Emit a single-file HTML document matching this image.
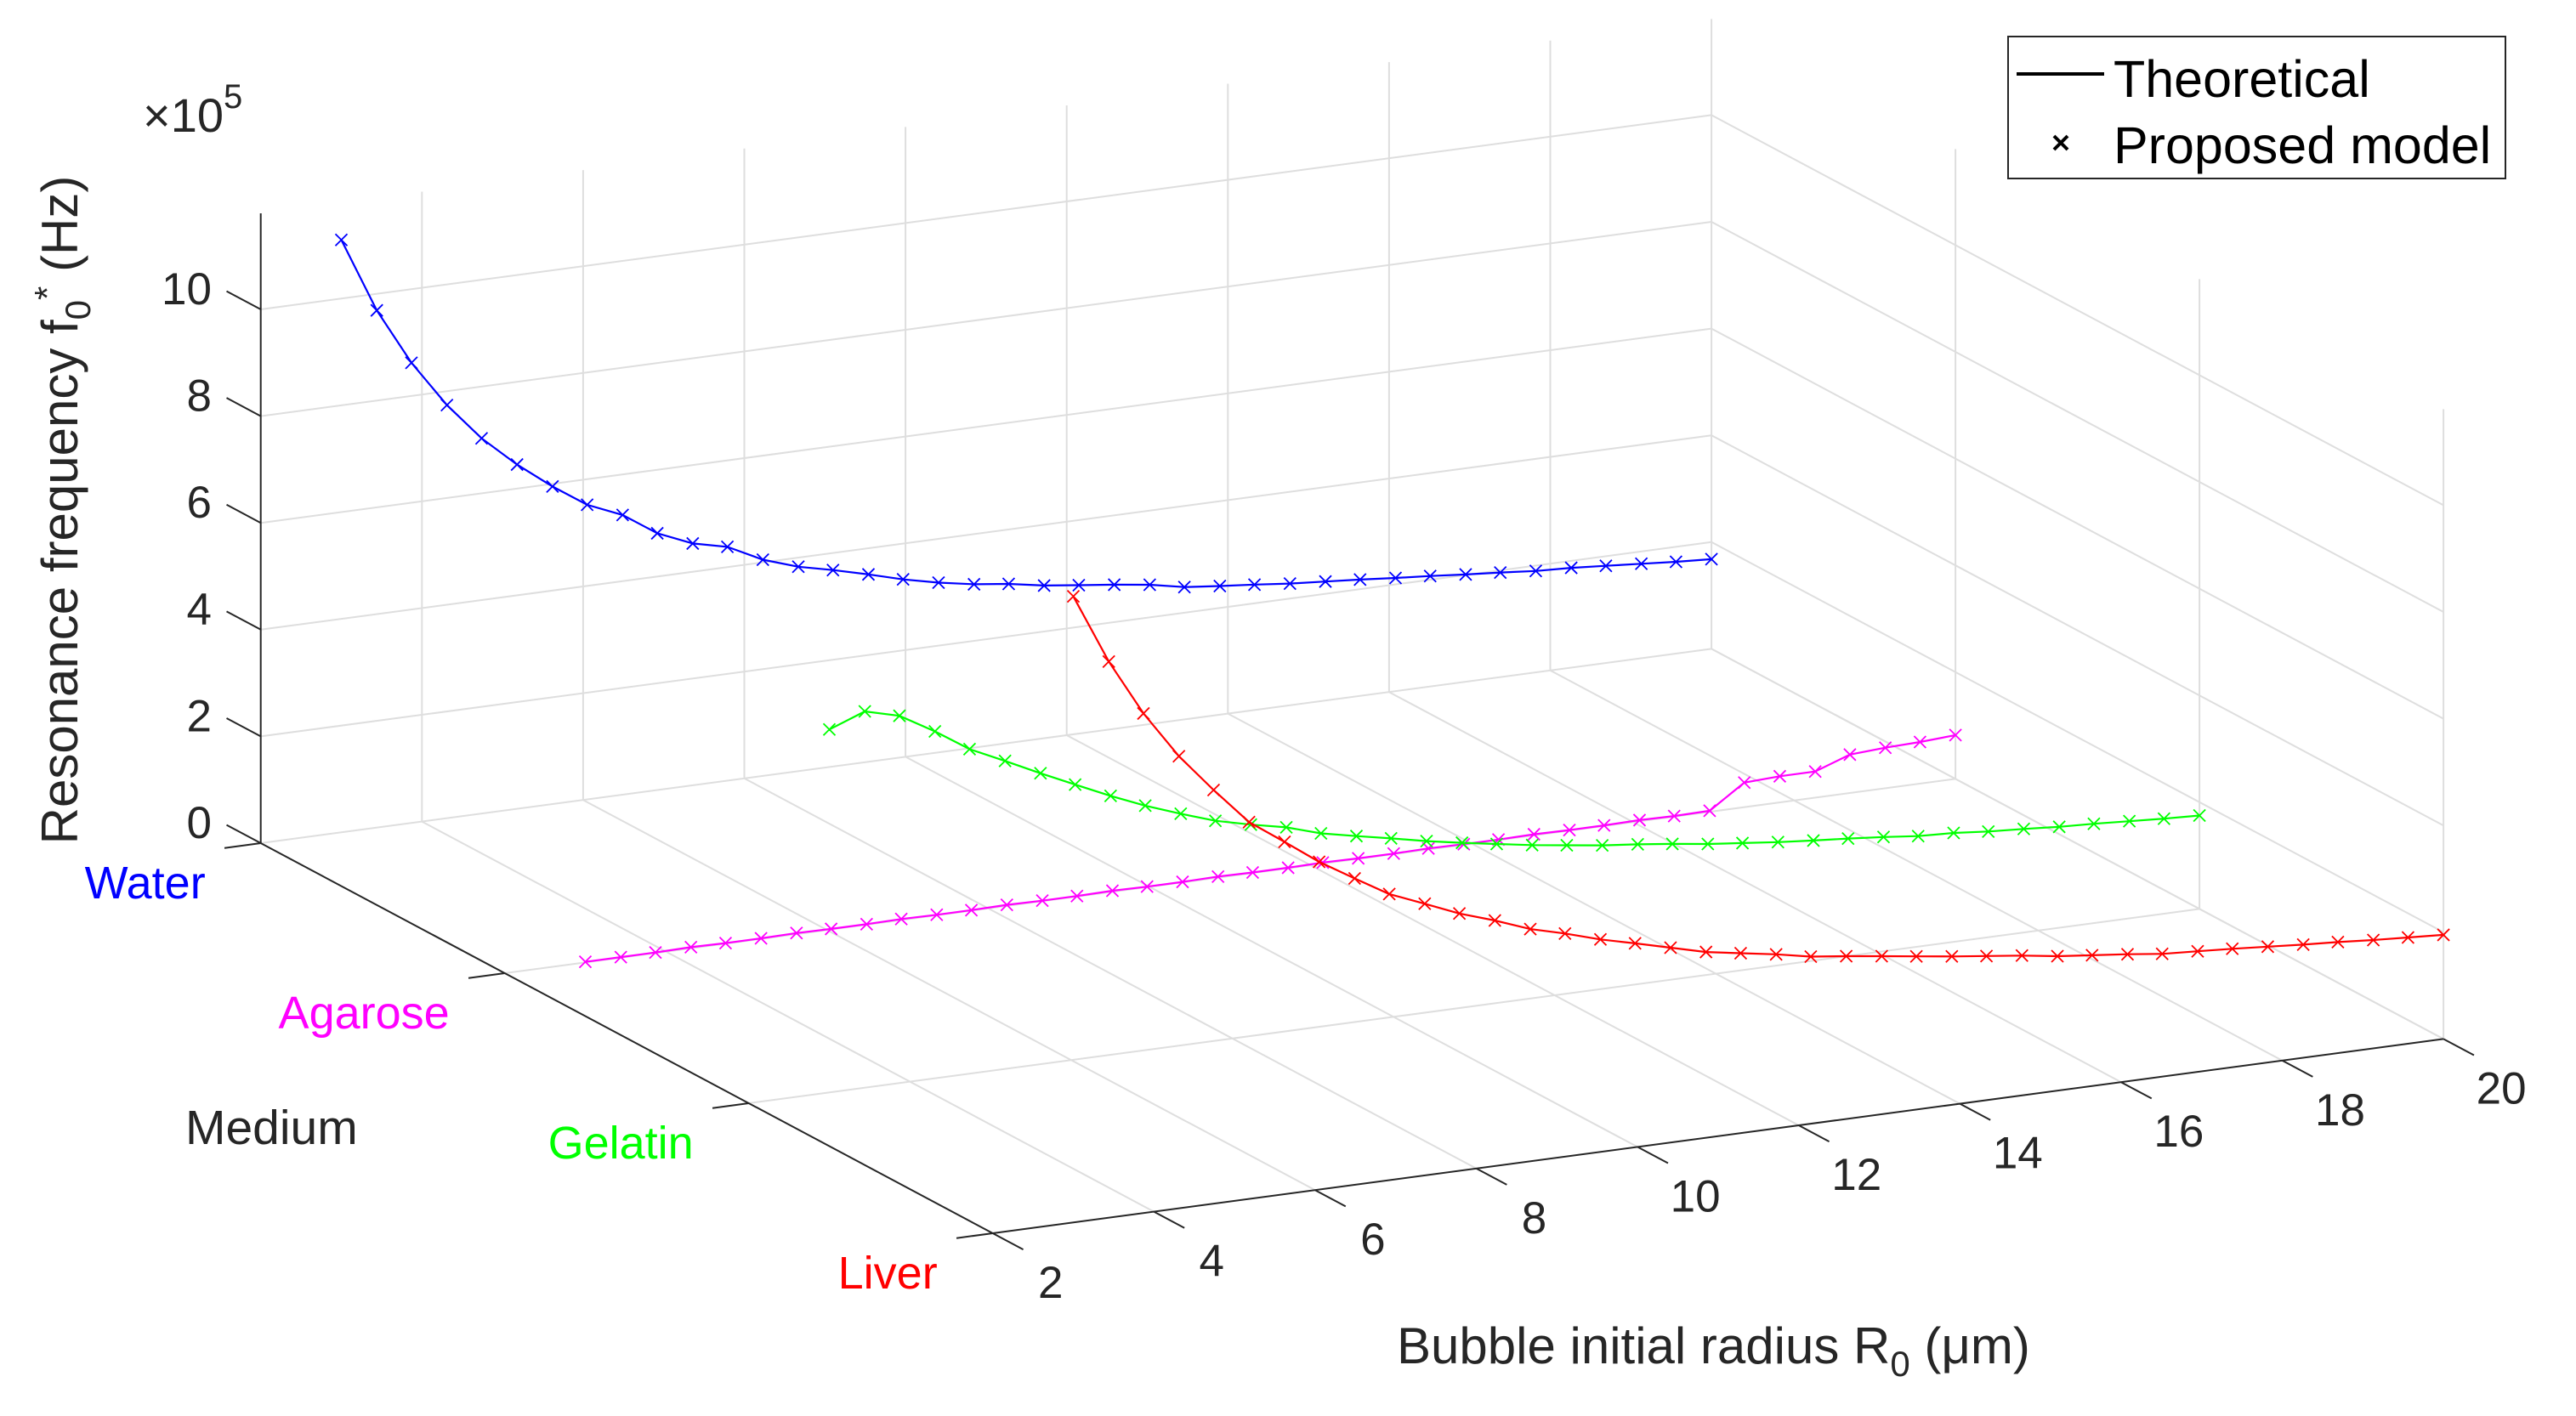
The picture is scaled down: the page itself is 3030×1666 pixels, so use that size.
<!DOCTYPE html>
<html><head><meta charset="utf-8"><style>
html,body{margin:0;padding:0;background:#fff;}
svg{display:block;font-family:"Liberation Sans",Arial,sans-serif;}
</style></head><body>
<svg id="chart" width="3030" height="1666" viewBox="0 0 3030 1666" xmlns="http://www.w3.org/2000/svg">
<rect x="0" y="0" width="3030" height="1666" fill="#fff"/>
<g id="grid"></g>
<g id="axes"></g>
<g id="series"></g>
<g id="labels"></g>
<g>
  <rect x="2362" y="43" width="585" height="167" fill="#fff" stroke="#262626" stroke-width="2"/>
  <line x1="2372" y1="87" x2="2475" y2="87" stroke="#000" stroke-width="4"/>
  <text x="2486" y="114" font-size="61" fill="#000">Theoretical</text>
  <path d="M2416,160 L2432,176 M2432,160 L2416,176" stroke="#000" stroke-width="4"/>
  <text x="2486" y="192" font-size="61" fill="#000">Proposed model</text>
</g>
</svg>
<script>
const radii = [3.00,3.44,3.87,4.31,4.74,5.18,5.62,6.05,6.49,6.92,7.36,7.79,8.23,8.67,9.10,9.54,9.97,10.41,10.85,11.28,11.72,12.15,12.59,13.03,13.46,13.90,14.33,14.77,15.21,15.64,16.08,16.51,16.95,17.38,17.82,18.26,18.69,19.13,19.56,20.00];
const waterF = [11.1,9.69,8.62,7.74,7.03,6.45,5.95,5.52,5.24,4.81,4.53,4.38,4.05,3.83,3.68,3.51,3.33,3.18,3.06,2.98,2.86,2.78,2.70,2.61,2.48,2.41,2.35,2.28,2.23,2.18,2.12,2.07,2.01,1.96,1.90,1.87,1.82,1.77,1.72,1.68];
const agaroseF = [0.01,0.01,0.01,0.02,0.01,0.01,0.02,0.01,0.01,0.02,0.01,0.01,0.02,0.01,0.01,0.02,0.01,0.01,0.02,0.01,0.01,0.02,0.01,0.01,0.02,0.01,0.01,0.02,0.01,0.01,0.02,0.01,0.02,0.46,0.49,0.49,0.72,0.76,0.78,0.82];
const gelatinF = [6.80,7.05,6.88,6.50,6.08,5.77,5.45,5.15,4.85,4.58,4.34,4.12,3.96,3.82,3.62,3.48,3.35,3.21,3.09,2.98,2.87,2.78,2.69,2.62,2.54,2.45,2.38,2.31,2.25,2.20,2.14,2.07,2.04,1.98,1.94,1.89,1.86,1.82,1.78,1.75];
const liverF = [11.73,10.42,9.36,8.47,7.75,7.06,6.60,6.14,5.74,5.36,5.09,4.82,4.60,4.35,4.18,3.98,3.82,3.65,3.48,3.37,3.26,3.13,3.05,2.96,2.87,2.78,2.70,2.62,2.52,2.45,2.38,2.30,2.26,2.22,2.17,2.12,2.08,2.03,1.99,1.95];
const media = ["Water","Agarose","Gelatin","Liver"];
const mediaColors = ["#0000ff","#ff00ff","#00ff00","#ff0000"];
const rTicks = [2,4,6,8,10,12,14,16,18,20];
const zTicks = [0,2,4,6,8,10];

const NS = "http://www.w3.org/2000/svg";
const Z1 = 11.8;
function px(R, m, f) { return 306.7 + 94.8 * (R - 2) + 287 * m; }
function py(R, m, f) { return 992 - 12.7 * (R - 2) + 153 * m - 62.8 * f; }
function mk(tag, attrs, parent) {
  const el = document.createElementNS(NS, tag);
  for (const k in attrs) el.setAttribute(k, attrs[k]);
  parent.appendChild(el);
  return el;
}
function seg(p, q, color, w, parent, name) {
  const el = mk("line", {x1: px(...p), y1: py(...p), x2: px(...q), y2: py(...q), stroke: color, "stroke-width": w}, parent);
  
  
  return el;
}
const grid = document.getElementById("grid");
const axes = document.getElementById("axes");
const series = document.getElementById("series");
const labels = document.getElementById("labels");
const GC = "#dedede";
rTicks.forEach(r => { if (r > 2) seg([r,0,0],[r,0,Z1],GC,2,grid,"gridline-back-r-" + r); });
zTicks.forEach(z => {
  seg([2,0,z],[20,0,z],GC,2,grid,"gridline-back-z-" + z);
  seg([20,0,z],[20,3,z],GC,2,grid,"gridline-right-z-" + z);
});
[1,2,3].forEach(m => seg([20,m,0],[20,m,Z1],GC,2,grid,"gridline-right-m-" + m));
rTicks.forEach(r => { if (r > 2) seg([r,0,0],[r,3,0],GC,2,grid,"gridline-floor-r-" + r); });
[1,2].forEach(m => seg([2,m,0],[20,m,0],GC,2,grid,"gridline-floor-m-" + m));

const AC = "#262626";
seg([2,0,0],[2,0,Z1],AC,2,axes,"z-axis-line");
seg([2,0,0],[2,3,0],AC,2,axes,"medium-axis-line");
seg([2,3,0],[20,3,0],AC,2,axes,"r-axis-line");
zTicks.forEach(z => {
  seg([2,0,z],[2,-0.14,z],AC,2,axes,"z-tick-" + z);
  const t = mk("text", {x: 249, y: py(2,0,z) - 25 + 19, "font-size": 53, fill: AC, "text-anchor": "end"}, labels);
  t.textContent = String(z);
  
  
});
media.forEach((name, m) => {
  seg([2,m,0],[1.55,m,0],AC,2,axes,"medium-tick-" + name.toLowerCase());
  const t = mk("text", {x: px(2,m,0) - 65, y: py(2,m,0) + 46 + 19, "font-size": 54, fill: mediaColors[m], "text-anchor": "end"}, labels);
  t.textContent = name;
  
  
});
rTicks.forEach(r => {
  seg([r,3,0],[r,3.125,0],AC,2,axes,"r-tick-" + r);
  const t = mk("text", {x: px(r,3,0) + 68, y: py(r,3,0) + 57 + 19, "font-size": 53, fill: AC, "text-anchor": "middle"}, labels);
  t.textContent = String(r);
  
  
});

const allF = [waterF, agaroseF, gelatinF, liverF];
allF.forEach((vals, m) => {
  const g = mk("g", {}, series);
  
  
  const pts = radii.map((r, i) => px(r, m, vals[i]).toFixed(1) + "," + py(r, m, vals[i]).toFixed(1)).join(" ");
  const pl = mk("polyline", {points: pts, fill: "none", stroke: mediaColors[m], "stroke-width": 2.2}, g);
  
  
  let d = "";
  radii.forEach((r, i) => {
    const x = px(r, m, vals[i]), y = py(r, m, vals[i]), s = 7;
    d += "M" + (x - s) + "," + (y - s) + "L" + (x + s) + "," + (y + s) + "M" + (x + s) + "," + (y - s) + "L" + (x - s) + "," + (y + s);
  });
  const mp = mk("path", {d: d, stroke: mediaColors[m], "stroke-width": 1.8, fill: "none"}, g);
  
  
});
</script>
<svg style="position:absolute;left:0;top:0" width="3030" height="1666" viewBox="0 0 3030 1666" xmlns="http://www.w3.org/2000/svg">
  <text x="168" y="155" font-size="56" fill="#262626" font-family="Liberation Sans, sans-serif">×10<tspan font-size="40" dy="-28">5</tspan></text>
  <text transform="translate(91,600) rotate(-90)" text-anchor="middle" font-size="60" fill="#262626" font-family="Liberation Sans, sans-serif">Resonance frequency f<tspan font-size="42" dy="15">0</tspan><tspan font-size="42" dy="-36">*</tspan><tspan dy="21"> (Hz)</tspan></text>
  <text x="218" y="1346" font-size="57" fill="#262626" font-family="Liberation Sans, sans-serif">Medium</text>
  <text x="1643" y="1604" font-size="60" fill="#262626" font-family="Liberation Sans, sans-serif">Bubble initial radius R<tspan font-size="42" dy="15">0</tspan><tspan dy="-15"> (μm)</tspan></text>
</svg>
</body></html>
